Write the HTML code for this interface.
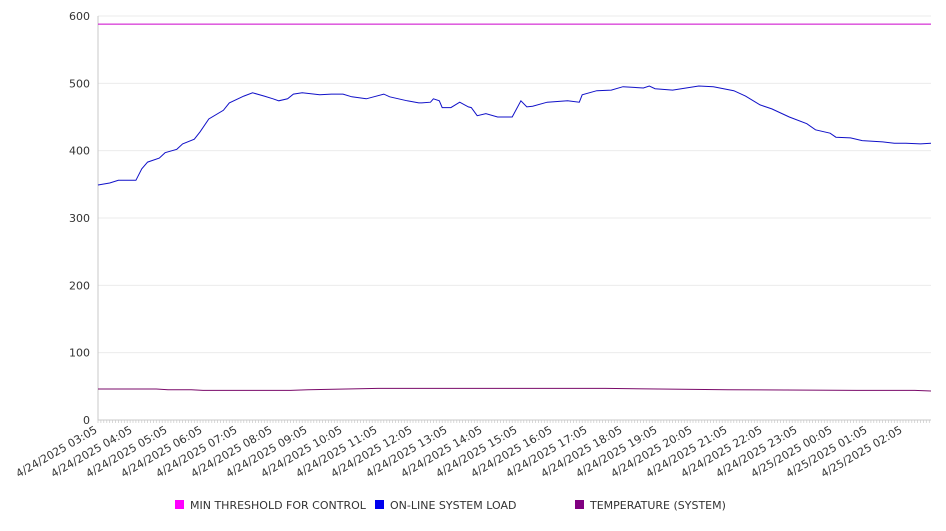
<!DOCTYPE html>
<html><head><meta charset="utf-8"><style>
body{margin:0;background:#fff;font-family:"Liberation Sans","DejaVu Sans",sans-serif}
svg text{font-family:"DejaVu Sans","Liberation Sans",sans-serif;fill:#333}
</style></head><body>
<svg id="chart" width="946" height="526"></svg>
<script>
const loadMinutes=[0,20,35,65,75,85,105,115,135,145,165,175,190,215,225,250,265,285,300,310,325,335,350,380,400,420,435,460,490,500,530,550,555,570,575,585,590,605,620,635,640,650,665,685,705,710,725,735,745,770,805,825,830,855,880,900,935,945,955,985,1030,1055,1090,1110,1135,1155,1185,1215,1230,1255,1265,1290,1310,1345,1365,1385,1410,1428];
const loadValues=[349,352,356,356,373,383,389,397,402,410,417,428,447,460,471,481,486,481,477,474,477,484,486,483,484,484,480,477,484,480,474,471,471,472,477,474,464,464,472,465,464,452,455,450,450,450,474,465,466,472,474,472,483,489,490,495,493,496,492,490,496,495,489,481,468,462,450,440,431,426,420,419,415,413,411,411,410,411];
const tempMinutes=[0,100,120,160,180,330,360,480,870,1080,1300,1400,1428];
const tempValues=[46,46,45,45,44,44,45,47,47,45,44,44,43];
const thresholdValue=588;
const tickLabels=["4/24/2025 03:05","4/24/2025 04:05","4/24/2025 05:05","4/24/2025 06:05","4/24/2025 07:05","4/24/2025 08:05","4/24/2025 09:05","4/24/2025 10:05","4/24/2025 11:05","4/24/2025 12:05","4/24/2025 13:05","4/24/2025 14:05","4/24/2025 15:05","4/24/2025 16:05","4/24/2025 17:05","4/24/2025 18:05","4/24/2025 19:05","4/24/2025 20:05","4/24/2025 21:05","4/24/2025 22:05","4/24/2025 23:05","4/25/2025 00:05","4/25/2025 01:05","4/25/2025 02:05"];
const yTicks=[0,100,200,300,400,500,600];

const NS="http://www.w3.org/2000/svg",svg=document.getElementById('chart');
const X0=98,X1=931,Y0=420,Y1=16,TMAX=1428,VMAX=600;
const xs=m=>X0+(X1-X0)*m/TMAX, ys=v=>Y0-(Y0-Y1)*v/VMAX;
function mk(t,a){const e=document.createElementNS(NS,t);for(const k in a)e.setAttribute(k,a[k]);svg.appendChild(e);return e;}
yTicks.forEach(v=>{
  if(v>0){const g=mk('line',{x1:X0,x2:X1,y1:ys(v),y2:ys(v),stroke:'#ebebeb'});
  
  }
  const t=mk('text',{x:90,y:ys(v)+4,'text-anchor':'end','font-size':11});t.textContent=v;
  
  
});
const ax=mk('path',{d:`M${X0},${Y1}V${Y0}H${X1}`,stroke:'#c8c8c8',fill:'none'});


let d='';for(let m=0;m<=TMAX;m+=5){d+=`M${xs(m).toFixed(1)},${Y0}v3`;}
const mt=mk('path',{d:d,stroke:'#c8c8c8','stroke-width':0.7});


tickLabels.forEach((l,i)=>{
  const x=xs(i*60);
  const t=mk('text',{x:x,y:Y0+12,'text-anchor':'end','font-size':11,transform:`rotate(-30 ${x} ${Y0+12})`});
  t.textContent=l;
  
  
});
function line(ms,vs,c,name){
  const p=mk('polyline',{points:ms.map((m,i)=>xs(m).toFixed(1)+','+ys(vs[i]).toFixed(1)).join(' '),fill:'none',stroke:c,'stroke-width':1});
  
  
}
line([0,TMAX],[thresholdValue,thresholdValue],'#cc00cc','min-threshold-line');
line(loadMinutes,loadValues,'#1010c8','online-system-load-line');
line(tempMinutes,tempValues,'#7a0a6a','temperature-line');
[['MIN THRESHOLD FOR CONTROL','#ff00ff',175],['ON-LINE SYSTEM LOAD','#0000ee',375],['TEMPERATURE (SYSTEM)','#800080',575]].forEach(([l,c,x])=>{
  const r=mk('rect',{x:x,y:500,width:9,height:9,fill:c});
  
  
  const t=mk('text',{x:x+15,y:509,'font-size':11});t.textContent=l;
  
  
});
</script>
</body></html>
